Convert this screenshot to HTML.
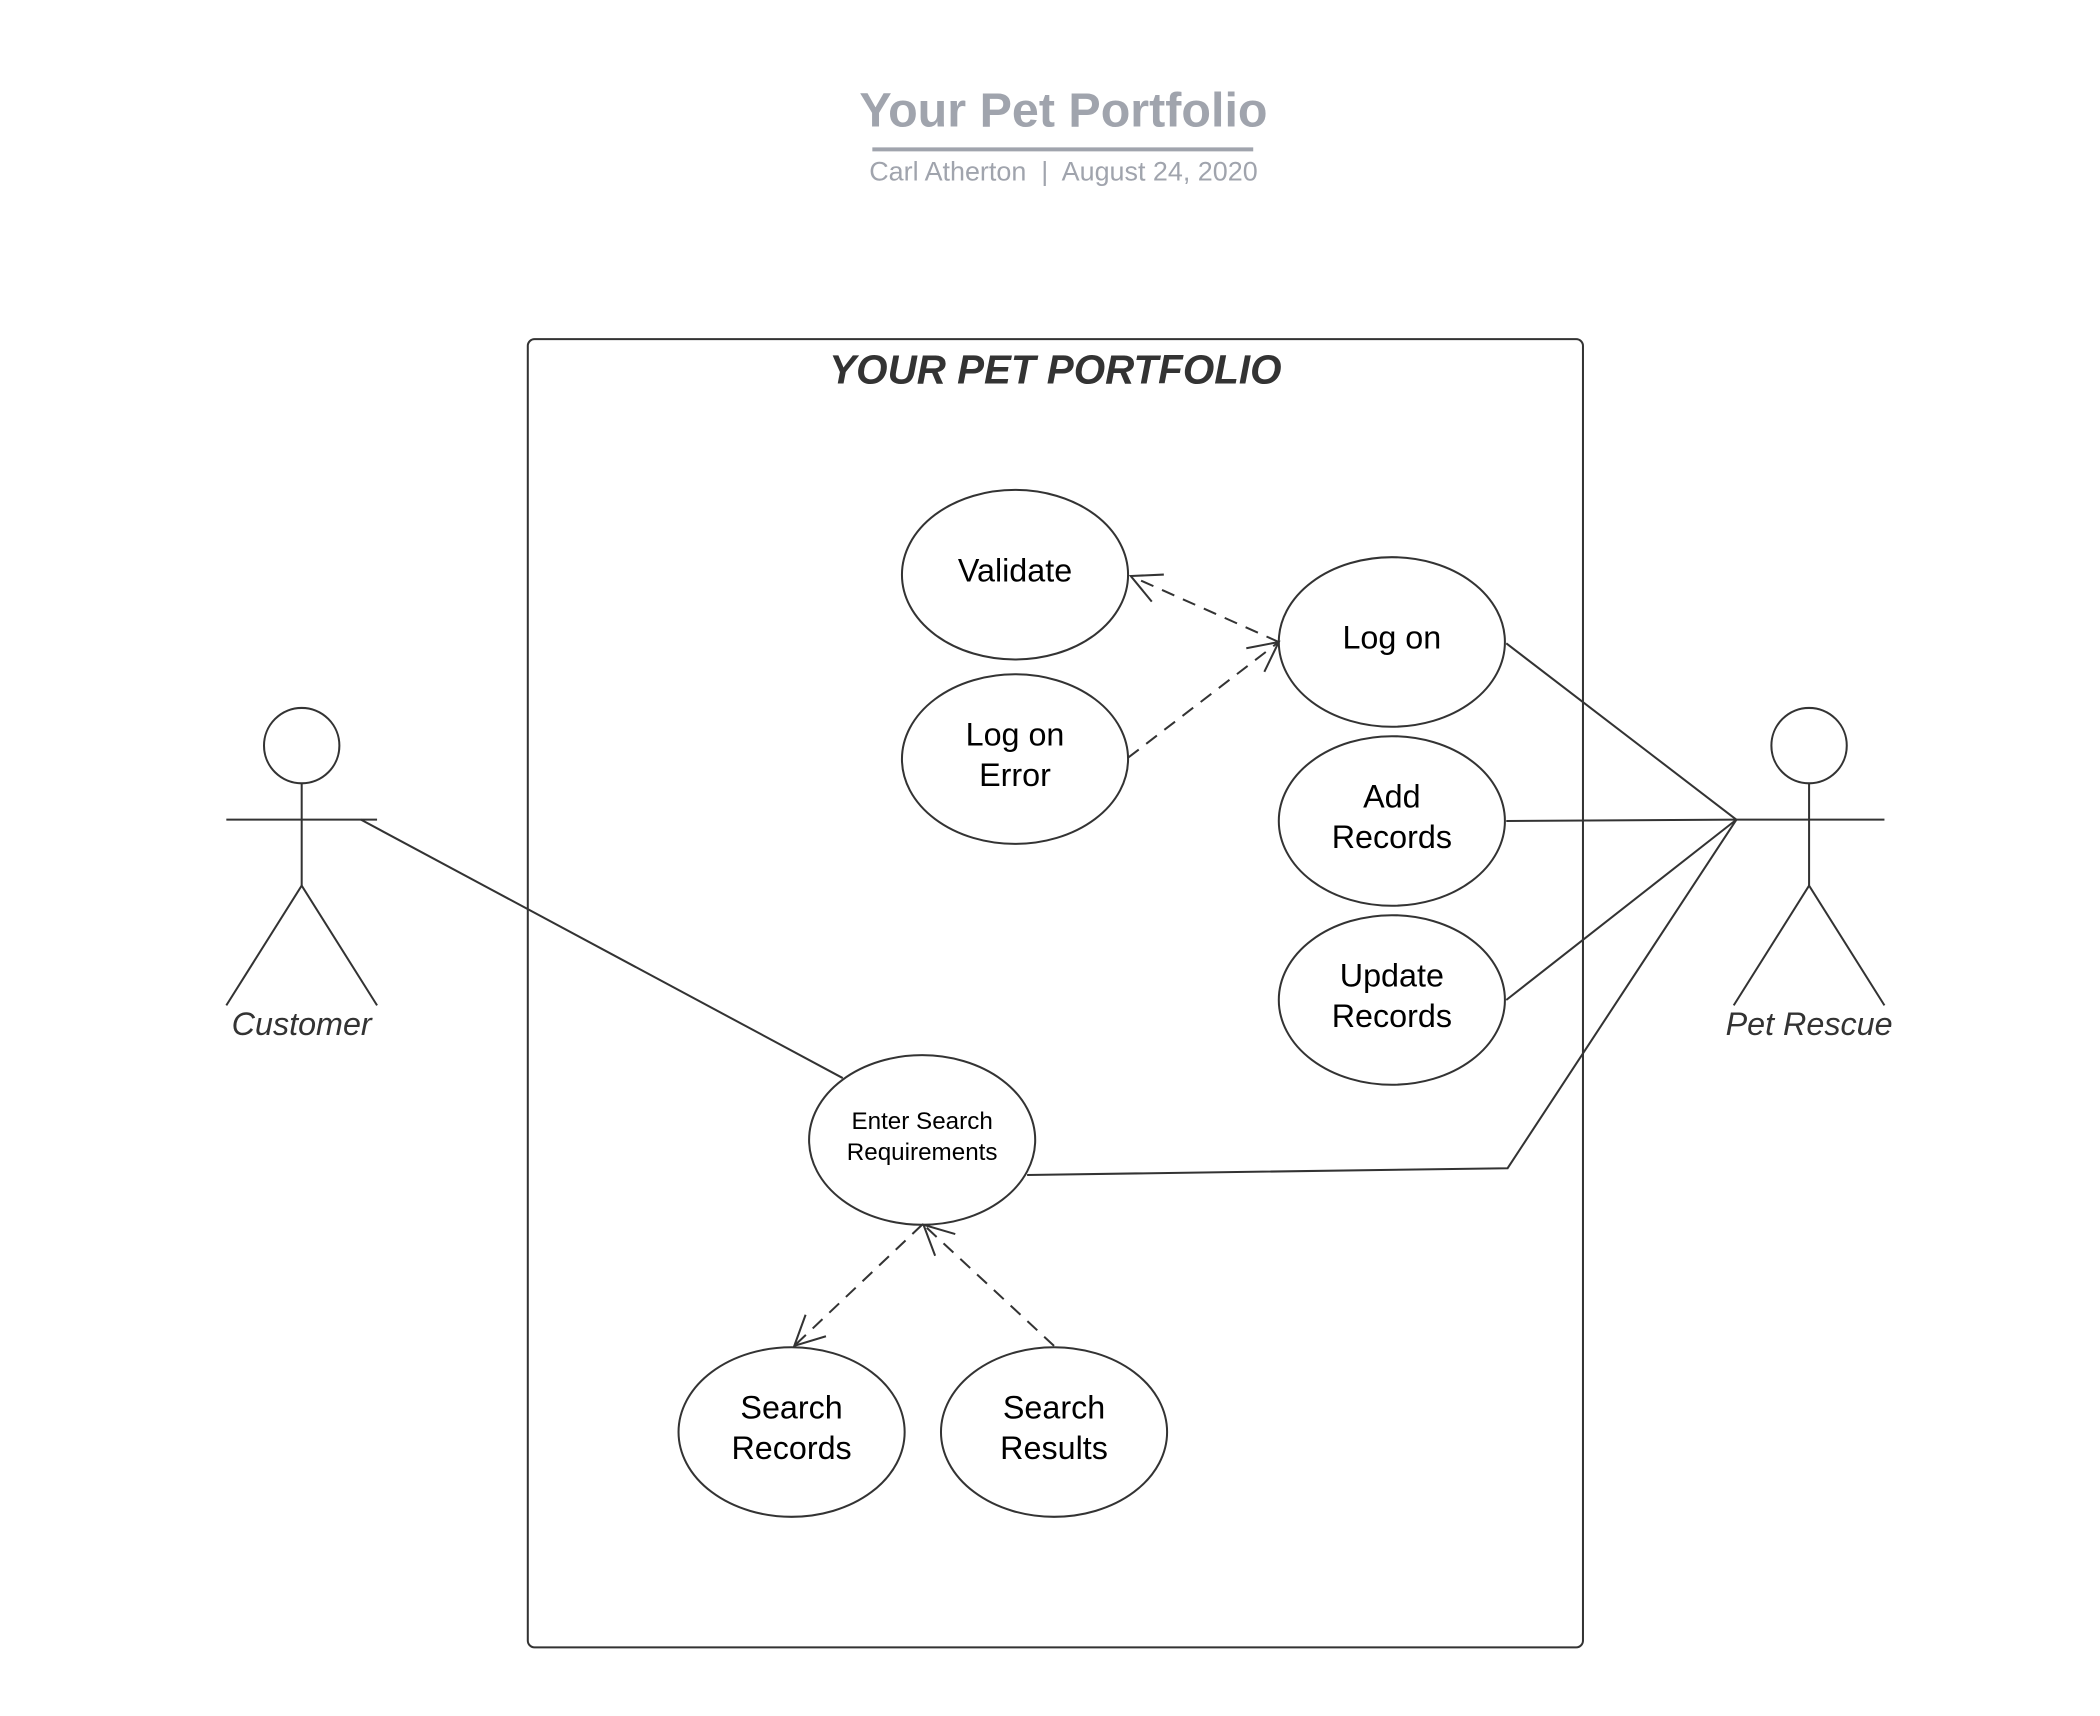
<!DOCTYPE html>
<html><head><meta charset="utf-8"><style>
html,body{margin:0;padding:0;background:#fff;width:2100px;height:1716px;overflow:hidden}
svg{display:block}
text{font-family:"Liberation Sans",Arial,sans-serif}
</style></head><body>
<svg width="2100" height="1716" viewBox="0 0 1560 1275" xmlns="http://www.w3.org/2000/svg">
<defs>
<marker id="oa" viewBox="0 0 26 26" refX="24" refY="13" markerWidth="26" markerHeight="26" markerUnits="userSpaceOnUse" orient="auto">
<path d="M2,2 L24,13 L2,24" fill="none" stroke="#333" stroke-width="1.5"/>
</marker>
</defs>
<text x="790" y="94" text-anchor="middle" font-size="36" font-weight="bold" fill="#a0a4ad">Your Pet Portfolio</text>
<line x1="648" y1="111" x2="931" y2="111" stroke="#a0a4ad" stroke-width="3"/>
<text x="790" y="134" text-anchor="middle" font-size="20" fill="#a0a4ad" style="white-space:pre" xml:space="preserve">Carl Atherton  |  August 24, 2020</text>

<rect x="392" y="252" width="784" height="972" rx="5" fill="none" stroke="#333" stroke-width="1.5"/>
<text x="784" y="285" text-anchor="middle" font-size="30" font-weight="bold" font-style="italic" fill="#333">YOUR PET PORTFOLIO</text>

<g fill="none" stroke="#333" stroke-width="1.5">
<ellipse cx="754" cy="427" rx="84" ry="63"/>
<ellipse cx="754" cy="564" rx="84" ry="63"/>
<ellipse cx="1034" cy="477" rx="84" ry="63"/>
<ellipse cx="1034" cy="610" rx="84" ry="63"/>
<ellipse cx="1034" cy="743" rx="84" ry="63"/>
<ellipse cx="685" cy="847" rx="84" ry="63"/>
<ellipse cx="588" cy="1064" rx="84" ry="63"/>
<ellipse cx="783" cy="1064" rx="84" ry="63"/>

<circle cx="224" cy="554" r="28"/>
<line x1="224" y1="582" x2="224" y2="658"/>
<line x1="168" y1="609" x2="280" y2="609"/>
<polyline points="168,747 224,658 280,747"/>
<circle cx="1344" cy="554" r="28"/>
<line x1="1344" y1="582" x2="1344" y2="658"/>
<line x1="1288" y1="609" x2="1400" y2="609"/>
<polyline points="1288,747 1344,658 1400,747"/>

<line x1="268" y1="609" x2="626" y2="801"/>
<line x1="1119" y1="478" x2="1290" y2="609"/>
<line x1="1119" y1="610" x2="1290" y2="609"/>
<line x1="1119" y1="743" x2="1290" y2="609"/>
<polyline points="763,873 1120,868 1290,609"/>

<line x1="950" y1="477" x2="840" y2="428" stroke-dasharray="10,7" marker-end="url(#oa)"/>
<line x1="838" y1="563" x2="950" y2="477" stroke-dasharray="10,7" marker-end="url(#oa)"/>
<line x1="685" y1="910" x2="590" y2="1000" stroke-dasharray="10,7" marker-end="url(#oa)"/>
<line x1="783" y1="1000" x2="686" y2="910" stroke-dasharray="10,7" marker-end="url(#oa)"/>
</g>

<g font-size="24" fill="#000" text-anchor="middle">
<text x="754" y="432">Validate</text>
<text x="754" y="554">Log on</text><text x="754" y="584">Error</text>
<text x="1034" y="482">Log on</text>
<text x="1034" y="600">Add</text><text x="1034" y="630">Records</text>
<text x="1034" y="733">Update</text><text x="1034" y="763">Records</text>
<text x="588" y="1054">Search</text><text x="588" y="1084">Records</text>
<text x="783" y="1054">Search</text><text x="783" y="1084">Results</text>
<text x="685" y="839" font-size="18">Enter Search</text>
<text x="685" y="862" font-size="18">Requirements</text>
</g>
<text x="224" y="769" text-anchor="middle" font-size="24" font-style="italic" fill="#333">Customer</text>
<text x="1344" y="769" text-anchor="middle" font-size="24" font-style="italic" fill="#333">Pet Rescue</text>
</svg>
</body></html>
